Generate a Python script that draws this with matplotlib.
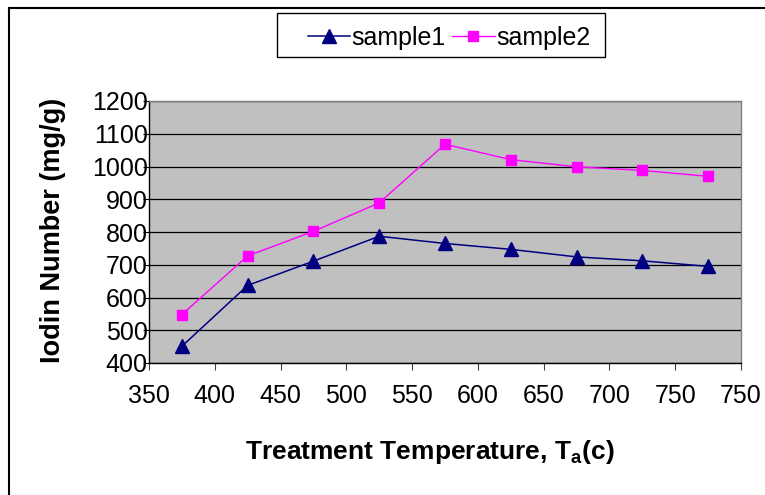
import matplotlib
matplotlib.use("Agg")
import matplotlib.pyplot as plt
from matplotlib.lines import Line2D
from matplotlib.patches import Rectangle
import numpy as np

plt.rcParams['font.family'] = ['Liberation Sans', 'DejaVu Sans']
plt.rcParams['mathtext.fontset'] = 'custom'
plt.rcParams['mathtext.rm'] = 'Liberation Sans'
plt.rcParams['mathtext.bf'] = 'Liberation Sans:bold'

# Data
x_tick_labels = ['350', '400', '450', '500', '550', '600', '650', '700', '750', '750']
sample1 = [451, 637, 711, 787, 765, 747, 724, 712, 695]
sample2 = [548, 727, 802, 889, 1068, 1021, 999, 988, 970]
y_ticks = [400, 500, 600, 700, 800, 900, 1000, 1100, 1200]

W, H = 765, 495
fig = plt.figure(figsize=(W / 100, H / 100), dpi=100)
fig.patch.set_facecolor('white')

L, R, T, B = 149, 741, 101, 363
ax = fig.add_axes([L / W, 1 - B / H, (R - L) / W, (B - T) / H])
ax.set_facecolor('#C0C0C0')

xpos = np.arange(len(sample1)) + 0.5
ax.plot(xpos, sample1, color='#000080', lw=1.1, marker='^', markersize=9.5,
        markerfacecolor='#000080', markeredgecolor='#000080', label='sample1', zorder=3)
ax.plot(xpos, sample2, color='#FF00FF', lw=1.0, marker='s', markersize=7.5,
        markerfacecolor='#FF00FF', markeredgecolor='#FF00FF', label='sample2', zorder=3)

ax.set_xlim(0, len(x_tick_labels) - 1)
ax.set_ylim(400, 1200)
ax.set_xticks(np.arange(len(x_tick_labels)))
ax.set_xticklabels(x_tick_labels)
ax.set_yticks(y_ticks)
ax.set_yticklabels([str(v) for v in y_ticks])

ax.yaxis.grid(True, color='black', lw=0.9)
ax.set_axisbelow(True)

for s in ['top', 'right']:
    ax.spines[s].set_color('#808080')
    ax.spines[s].set_linewidth(1.0)
for s in ['left', 'bottom']:
    ax.spines[s].set_color('black')
    ax.spines[s].set_linewidth(1.0)

ax.tick_params(axis='x', direction='out', length=5, width=0.8, color='#404040',
               pad=10, labelsize=18)
ax.tick_params(axis='y', direction='out', length=4, width=0.8, color='black',
               pad=-3, labelsize=18)

# Axis titles
fig.text(430 / W, 1 - 452 / H, 'Treatment Temperature, T$_{\\mathbf{a}}$(c)',
         ha='center', va='center', fontsize=19, fontweight='bold')
fig.text(53 / W, 1 - 230 / H, 'Iodin Number (mg/g)', rotation=90,
         ha='center', va='center', fontsize=19.5, fontweight='bold')

# Legend
leg = fig.legend(loc='center', bbox_to_anchor=(449 / W, 1 - 38 / H), ncol=2,
                 frameon=False, fontsize=18, handlelength=1.7, handletextpad=0.05,
                 columnspacing=0.25, borderpad=0.0)
fig.add_artist(Rectangle((277 / W, 1 - 57 / H), (605 - 277) / W, 44 / H,
                         transform=fig.transFigure, fill=False,
                         edgecolor='black', lw=1.0))

# Chart border
fig.add_artist(Line2D([9 / W, 9 / W], [0, 1 - 8 / H], transform=fig.transFigure,
                      color='black', lw=1.5))
fig.add_artist(Line2D([9 / W, 1], [1 - 8 / H, 1 - 8 / H], transform=fig.transFigure,
                      color='black', lw=1.5))

fig.savefig('out.png', dpi=100)
